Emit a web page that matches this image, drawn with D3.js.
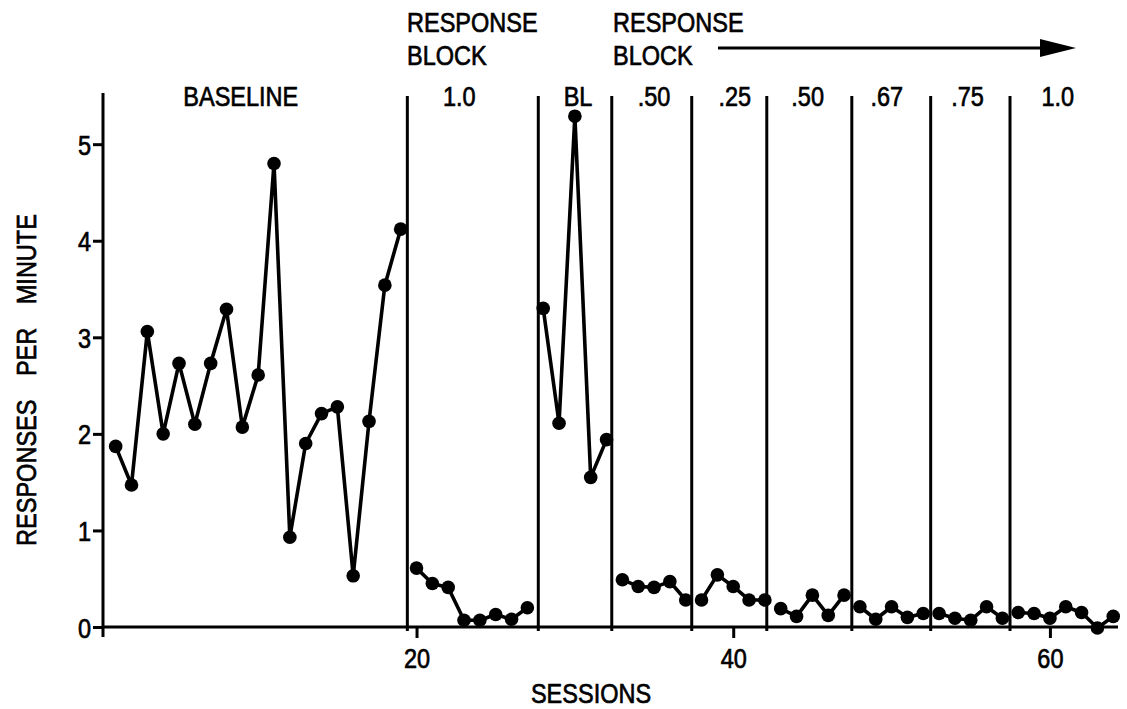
<!DOCTYPE html>
<html>
<head>
<meta charset="utf-8">
<script src="https://cdn.jsdelivr.net/npm/d3@7"></script>
<style>
  body { margin: 0; background: #fff; }
  svg { display: block; }
  text { font-family: "Liberation Sans", Arial, Helvetica, sans-serif; fill: #000; stroke: #000; stroke-width: 0.7px; }
</style>
</head>
<body>
<svg id="chart"></svg>
<script>
// responses per minute, one array per phase
var baselineA = [1.87, 1.47, 3.06, 2.0, 2.73, 2.10, 2.73, 3.29, 2.07, 2.61, 4.80, 0.93, 1.90, 2.21, 2.28, 0.53, 2.13, 3.54, 4.12]; // sessions 1-19
var block100a = [0.61, 0.45, 0.41, 0.07, 0.07, 0.13, 0.08, 0.20];   // 20-27
var baselineB = [3.30, 2.11, 5.29, 1.55, 1.94];                     // 28-32
var block50a  = [0.49, 0.42, 0.41, 0.47, 0.28];                     // 33-37
var block25   = [0.28, 0.54, 0.42, 0.28, 0.28];                     // 38-42
var block50b  = [0.19, 0.11, 0.33, 0.12, 0.33];                     // 43-47
var block67   = [0.21, 0.08, 0.21, 0.10, 0.14];                     // 48-52
var block75   = [0.14, 0.09, 0.07, 0.21, 0.09];                     // 53-57
var block100b = [0.15, 0.14, 0.09, 0.21, 0.15, -0.01, 0.11];        // 58-64

var phaseNames = ["BASELINE", "1.0", "BL", ".50", ".25", ".50", ".67", ".75", "1.0"];
var phaseLabelAt = [8.9, 22.7, 30.2, 35.0, 40.1, 44.7, 49.7, 54.8, 60.5];   // session where label sits
var phaseLines = [19.42, 27.69, 32.33, 37.38, 42.12, 47.49, 52.47, 57.48];  // hand-drawn condition lines
var xTicks = [20, 40, 60];
var yTicks = [0, 1, 2, 3, 4, 5];

var phases = [baselineA, block100a, baselineB, block50a, block25, block50b, block67, block75, block100b];

var width = 1127, height = 709;
var SX = 0.84; // narrow type
var FS = 28;

var svg = d3.select("#chart").attr("width", width).attr("height", height);

var x = d3.scaleLinear().domain([0.2, 64.3]).range([103, 1118]);
var y = d3.scaleLinear().domain([0, 5.53]).range([627, 93]);

function label(txt, px, py, anchor, rot) {
  return svg.append("text")
    .attr("transform", "translate(" + px + "," + py + ")" + (rot ? "rotate(" + rot + ")" : "") + "scale(" + SX + ",1)")
    .attr("text-anchor", anchor || "middle")
    .style("font-size", FS + "px")
    .text(txt);
}

// build the session numbers per phase
var start = 1;
var series = phases.map(function(vals) {
  var pts = vals.map(function(v, i) { return { s: start + i, v: v }; });
  start += vals.length;
  return pts;
});

// axes
var xAxis = d3.axisBottom(x).tickValues(xTicks).tickSize(11).tickSizeOuter(0).tickFormat(d3.format("d"));
var gx = svg.append("g").attr("transform", "translate(0," + y(0) + ")").call(xAxis);
gx.select(".domain").remove();
gx.selectAll(".tick line").attr("stroke", "#000").attr("stroke-width", 3);
gx.selectAll(".tick text").attr("y", 0).attr("dy", 0)
  .attr("transform", "translate(0,41)scale(" + SX + ",1)")
  .style("font-size", FS + "px").style("font-family", "Liberation Sans, Arial, sans-serif").attr("fill", "#000");

var yAxis = d3.axisLeft(y).tickValues(yTicks).tickSize(10).tickSizeOuter(0).tickFormat(d3.format("d"));
var gy = svg.append("g").attr("transform", "translate(" + x(0.2) + ",0)").call(yAxis);
gy.select(".domain").remove();
gy.selectAll(".tick line").attr("stroke", "#000").attr("stroke-width", 3);
gy.selectAll(".tick text").attr("x", 0).attr("dy", 0)
  .attr("transform", "translate(-12,10)scale(" + SX + ",1)")
  .style("font-size", FS + "px").style("font-family", "Liberation Sans, Arial, sans-serif").attr("fill", "#000");

// axis lines
svg.append("line").attr("x1", x(0.2)).attr("x2", x(0.2)).attr("y1", y(5.53)).attr("y2", y(0) + 10)
  .attr("stroke", "#000").attr("stroke-width", 3);
svg.append("line").attr("x1", x(0.2)).attr("x2", x(64.3)).attr("y1", y(0)).attr("y2", y(0))
  .attr("stroke", "#000").attr("stroke-width", 3);

// phase change lines
svg.selectAll(".phase").data(phaseLines).enter().append("line")
  .attr("class", "phase")
  .attr("x1", d => x(d)).attr("x2", d => x(d))
  .attr("y1", y(5.5)).attr("y2", y(0) + 4)
  .attr("stroke", "#000").attr("stroke-width", 3);

// data paths, one per phase
var line = d3.line().x(d => x(d.s)).y(d => y(d.v));
svg.selectAll(".seg").data(series).enter().append("path")
  .attr("class", "seg")
  .attr("d", line)
  .attr("fill", "none").attr("stroke", "#000").attr("stroke-width", 3.6).attr("stroke-linejoin", "round");

svg.selectAll(".dot").data(d3.merge(series)).enter().append("circle")
  .attr("class", "dot")
  .attr("cx", d => x(d.s)).attr("cy", d => y(d.v)).attr("r", 6.8)
  .attr("fill", "#000");

// phase labels
phaseNames.forEach(function(n, i) {
  label(n, x(phaseLabelAt[i]), 106, "middle");
});

label("RESPONSE", 407, 32, "start");
label("BLOCK", 407, 65, "start");
label("RESPONSE", 613, 32, "start");
label("BLOCK", 613, 65, "start");

// arrow
svg.append("line").attr("x1", 718).attr("x2", 1045).attr("y1", 48).attr("y2", 48)
  .attr("stroke", "#000").attr("stroke-width", 3);
svg.append("path").attr("d", "M1040,39L1076,48L1040,57Z").attr("fill", "#000");

// axis titles
label("SESSIONS", 591, 703, "middle");
label("RESPONSES\u2003PER\u2003MINUTE", 36, 380, "middle", -90);
</script>
</body>
</html>
